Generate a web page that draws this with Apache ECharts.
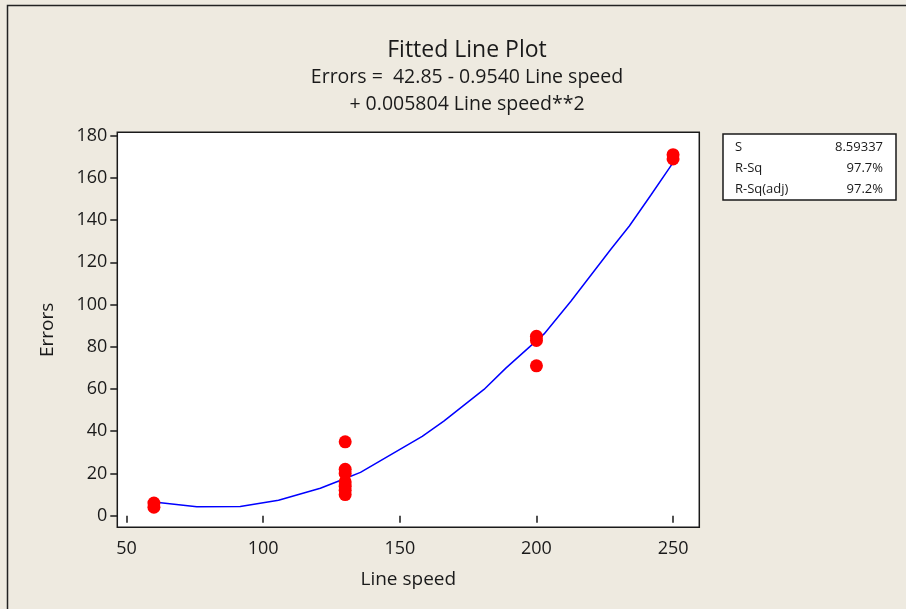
<!DOCTYPE html>
<html>
<head>
<meta charset="utf-8">
<title>Fitted Line Plot</title>
<script src="https://cdn.jsdelivr.net/npm/echarts@6/dist/echarts.min.js"></script>
<style>
  html, body { margin: 0; padding: 0; background: #EEEAE0; }
  #chart { width: 906px; height: 609px; }
</style>
</head>
<body>
<div id="chart"></div>
<script>
// Observations: line speed and number of errors
const lineSpeed = [60, 60, 130, 130, 130, 130, 130, 130, 130, 200, 200, 200, 250, 250];
const errors    = [6, 4, 35, 22, 20, 16, 14, 12, 10, 85, 83, 71, 171, 169];

// Quadratic fitted curve, as a polyline of vertices
const fitSpeed  = [60, 75.7, 91.6, 105.6, 120.9, 130, 135.6, 158.2, 166.1, 180.8, 188.8, 202.8, 212.6, 227.3, 234.0, 241.9, 250];
const fitErrors = [6.5, 4.2, 4.3, 7.3, 13.0, 17.6, 20.5, 37.6, 44.8, 59.8, 69.9, 86.1, 101.6, 126.3, 137.2, 151.9, 167.2];

// Axis ticks
const xTicks = [50, 100, 150, 200, 250];
const yTicks = [0, 20, 40, 60, 80, 100, 120, 140, 160, 180];

// Regression summary
const statNames  = ['S', 'R-Sq', 'R-Sq(adj)'];
const statValues = ['8.59337', '97.7%', '97.2%'];

const titleLines = ['Fitted Line Plot', 'Errors =  42.85 - 0.9540 Line speed', '+ 0.005804 Line speed**2'];

const FONT = '"Open Sans", "DejaVu Sans", sans-serif';
const INK = '#1a1a1a';

const chart = echarts.init(document.getElementById('chart'), null, { renderer: 'canvas' });

const statGraphics = [{
  type: 'rect',
  shape: { x: 723, y: 134, width: 173, height: 66 },
  style: { fill: '#ffffff', stroke: INK, lineWidth: 1.5 }
}];
statNames.forEach((n, i) => {
  statGraphics.push({
    type: 'text', x: 735, y: 147 + i * 21,
    style: { text: n, font: '13px ' + FONT, fill: INK, verticalAlign: 'middle', textAlign: 'left' }
  });
  statGraphics.push({
    type: 'text', x: 883, y: 147 + i * 21,
    style: { text: statValues[i], font: '13px ' + FONT, fill: INK, verticalAlign: 'middle', textAlign: 'right' }
  });
});

chart.setOption({
  backgroundColor: '#EEEAE0',
  animation: false,
  textStyle: { fontFamily: FONT },
  title: [
    { text: titleLines[0], left: 462, top: 34, textAlign: 'center',
      textStyle: { fontSize: 23, fontWeight: 'normal', color: INK, fontFamily: FONT } },
    { text: titleLines[1], left: 462, top: 62, textAlign: 'center',
      textStyle: { fontSize: 19.5, fontWeight: 'normal', color: INK, fontFamily: FONT } },
    { text: titleLines[2], left: 462, top: 89, textAlign: 'center',
      textStyle: { fontSize: 19.5, fontWeight: 'normal', color: INK, fontFamily: FONT } }
  ],
  graphic: [
    {
      type: 'rect', silent: true,
      shape: { x: 7.5, y: 5.5, width: 1000, height: 1000 },
      style: { fill: 'none', stroke: '#222', lineWidth: 1.5 }
    }
  ].concat(statGraphics),
  grid: {
    left: 117.3, right: 906 - 699.3, top: 132.3, bottom: 609 - 527.3,
    show: true, backgroundColor: '#ffffff', borderColor: INK, borderWidth: 1.5
  },
  xAxis: {
    type: 'value', min: 46.6, max: 259.6,
    name: 'Line speed', nameLocation: 'middle', nameGap: 43,
    nameTextStyle: { fontSize: 19, color: INK, fontFamily: FONT },
    axisLine: { show: false },
    axisTick: { show: true, customValues: xTicks, length: 7, lineStyle: { color: INK, width: 1.5 } },
    axisLabel: { customValues: xTicks, fontSize: 18, color: INK, margin: 13, fontFamily: FONT },
    splitLine: { show: false }
  },
  yAxis: {
    type: 'value', min: -5.5, max: 181.6,
    name: 'Errors', nameLocation: 'middle', nameGap: 60, nameRotate: 90,
    nameTextStyle: { fontSize: 19, color: INK, fontFamily: FONT },
    axisLine: { show: false },
    axisTick: { show: true, customValues: yTicks, length: 7, lineStyle: { color: INK, width: 1.5 } },
    axisLabel: { customValues: yTicks, fontSize: 18, color: INK, margin: 10, fontFamily: FONT },
    splitLine: { show: false }
  },
  series: [
    {
      type: 'line', name: 'Fit',
      data: fitSpeed.map((x, i) => [x, fitErrors[i]]),
      showSymbol: false, smooth: false,
      lineStyle: { color: '#0000FF', width: 1.5 },
      z: 2
    },
    {
      type: 'scatter', name: 'Errors',
      data: lineSpeed.map((x, i) => [x, errors[i]]),
      symbol: 'circle', symbolSize: 13,
      itemStyle: { color: '#FF0000', opacity: 1 },
      z: 3
    }
  ]
});
</script>
</body>
</html>
